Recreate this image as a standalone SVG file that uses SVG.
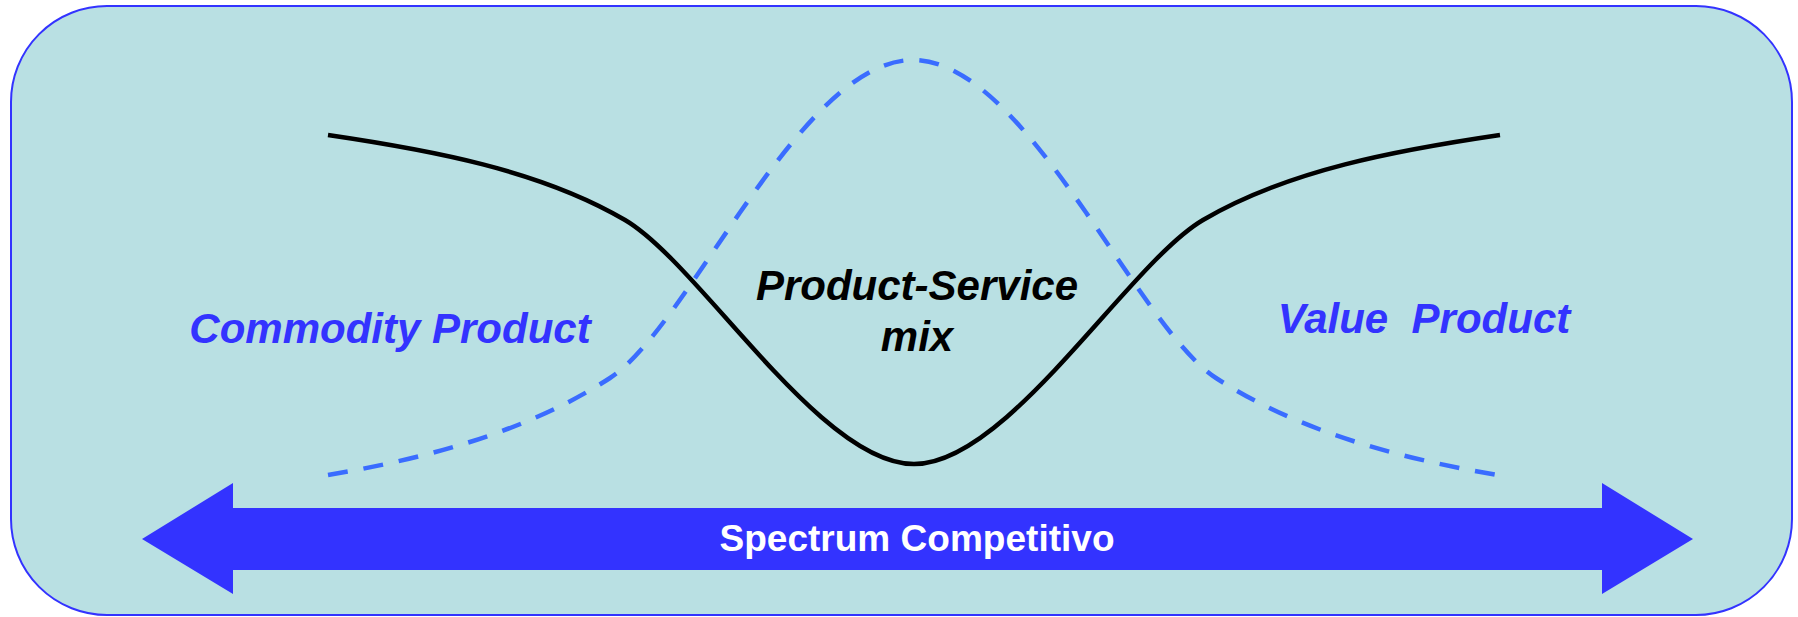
<svg xmlns="http://www.w3.org/2000/svg" width="1798" height="617" viewBox="0 0 1798 617">
  <style>
    .panel { fill: #b9e0e3; stroke: #3333ff; stroke-width: 2; }
    .solid { fill: none; stroke: #000000; stroke-width: 4.5; }
    .dashed { fill: none; stroke: #3a6cff; stroke-width: 4.5; stroke-dasharray: 20 16; }
    .label { font-family: "Liberation Sans", Arial, sans-serif; font-weight: bold; font-style: italic; font-size: 42px; text-anchor: middle; }
    .blue { fill: #3333ff; }
    .black { fill: #000000; }
    .band { fill: #3333ff; }
    .band-text { font-family: "Liberation Sans", Arial, sans-serif; font-weight: bold; font-size: 36px; fill: #ffffff; text-anchor: middle; }
  </style>

  <g id="panel">
    <rect class="panel" x="11" y="6" width="1781" height="609" rx="96" ry="96"/>
  </g>

  <g id="curves">
    <!-- competitive pressure (solid) -->
    <path class="solid" d="M328,135 C430,150 540,170 625,220 C700,264 820,464 914,464 C1008,464 1128,264 1203,220 C1288,170 1398,150 1500,135"/>
    <!-- product-service mix share (dashed) -->
    <path class="dashed" d="M328,475 C430,458 530,430 610,378 C690,326 800,60 913,60 C1026,60 1136,326 1216,378 C1296,430 1396,458 1498,475"/>
  </g>

  <g id="spectrum">
    <polygon class="band" points="142,539 233,483 233,508 1602,508 1602,483 1693,539 1602,594 1602,570 233,570 233,594"/>
    <text class="band-text" x="917" y="551" textLength="395" lengthAdjust="spacingAndGlyphs">Spectrum Competitivo</text>
  </g>

  <g id="commodity">
    <text class="label blue" x="390" y="343">Commodity Product</text>
  </g>

  <g id="mix">
    <text class="label black" x="917" y="300">Product-Service</text>
    <text class="label black" x="917" y="351">mix</text>
  </g>

  <g id="value">
    <text class="label blue" x="1424" y="333" style="white-space: pre">Value  Product</text>
  </g>
</svg>
